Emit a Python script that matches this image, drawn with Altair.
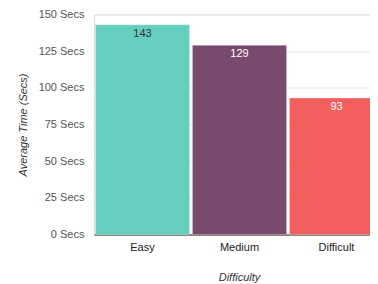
import altair as alt
import pandas as pd

categories = ["Easy", "Medium", "Difficult"]
values = [143, 129, 93]
colors = ["#64CFBF", "#7A4A6E", "#F25F5C"]
label_colors = ["#333333", "#FFFFFF", "#FFFFFF"]

df = pd.DataFrame({"cat": categories, "val": values, "lc": label_colors})

x = alt.X("cat:N", sort=categories,
          scale=alt.Scale(paddingInner=0.03, paddingOuter=0.015, range=[0, 291]),
          axis=alt.Axis(title="Difficulty", labelAngle=0, ticks=False,
                        labelPadding=7, titlePadding=19,
                        labelColor="#222222", titleColor="#333333",
                        titleFontStyle="italic", titleFontWeight="normal",
                        labelFontSize=11, titleFontSize=11, titleX=145,
                        domainColor="#666666", domainWidth=1.5))
y = alt.Y("val:Q", scale=alt.Scale(domain=[0, 150], nice=False, zero=True),
          axis=alt.Axis(title="Average Time (Secs)", values=[0, 25, 50, 75, 100, 125, 150],
                        labelExpr="datum.value + ' Secs'", ticks=False, domain=False,
                        labelPadding=10, titlePadding=10, labelOverlap=False,
                        labelColor="#555555", titleColor="#333333",
                        titleFontStyle="italic", titleFontWeight="normal",
                        labelFontSize=11, titleFontSize=11,
                        gridColor="#e2e2e2", gridWidth=1))

base = alt.Chart(df).encode(x=x, y=y)

bars = base.mark_bar(stroke="white", strokeOpacity=0.5, strokeWidth=0.5).encode(
    color=alt.Color("cat:N", scale=alt.Scale(domain=categories, range=colors), legend=None),
)
text = base.mark_text(baseline="top", dy=3, fontSize=11, font="Liberation Sans").encode(
    text="val:Q",
    color=alt.Color("lc:N", scale=None),
)

chart = alt.layer(bars, text).properties(
    width=276, height=220,
    autosize=alt.AutoSizeParams(type="none"),
    padding={"left": 86, "top": 6.5, "right": 0, "bottom": 50},
).configure_view(stroke=None).configure(font="Liberation Sans")

chart.save("out.html", embed_options={"renderer": "svg", "actions": False})
